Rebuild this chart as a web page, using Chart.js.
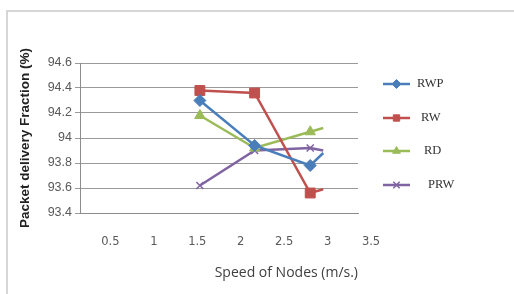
<!DOCTYPE html>
<html>
<head>
<meta charset="utf-8">
<script src="https://cdn.jsdelivr.net/npm/chart.js@4/dist/chart.umd.min.js"></script>
<style>
  html, body { margin: 0; padding: 0; background: #fff; }
  #wrap { width: 514px; height: 294px; }
</style>
</head>
<body>
<div id="wrap"><canvas id="chart" width="514" height="294"></canvas></div>
<script>
// values
const speeds = [1.53, 2.16, 2.8, 2.95];
const rwp = [94.30, 93.94, 93.78, 93.88];
const rw = [94.38, 94.36, 93.56, 93.59];
const rd = [94.18, 93.92, 94.05, 94.08];
const prw = [93.62, 93.90, 93.92, 93.90];

const seriesNames = ["RWP", "RW", "RD", "PRW"];
const xTickValues = [0.5, 1, 1.5, 2, 2.5, 3, 3.5];
const xTickLabels = ["0.5", "1", "1.5", "2", "2.5", "3", "3.5"];
const yTickLabels = ["93.4", "93.6", "93.8", "94", "94.2", "94.4", "94.6"];

const colors = ["#4a7ebb", "#c0504d", "#9bbb59", "#8064a2"];
const markers = ["rectRot", "rect", "triangle", "crossRot"];
const markerSize = [6, 7, 6, 5];

function points(vals) {
  return vals.map((v, i) => ({ x: speeds[i], y: v }));
}

const datasets = [rwp, rw, rd, prw].map((vals, i) => ({
  label: seriesNames[i],
  data: points(vals),
  borderColor: colors[i],
  backgroundColor: colors[i],
  borderWidth: 2.5,
  pointStyle: markers[i],
  pointRadius: vals.map((v, j) => (j < 3 ? markerSize[i] : 0)),
  pointBorderWidth: i === 3 ? 1.5 : 1,
  tension: 0
}));

// frame around the chart, like the spreadsheet chart box
const framePlugin = {
  id: "frame",
  beforeDraw(chart) {
    const ctx = chart.ctx;
    ctx.save();
    ctx.strokeStyle = "#d6d6d6";
    ctx.lineWidth = 2;
    ctx.beginPath();
    ctx.moveTo(7, 294);
    ctx.lineTo(7, 11);
    ctx.lineTo(514, 11);
    ctx.stroke();
    ctx.restore();
  }
};

// legend with line + marker, like the original
const legendPlugin = {
  id: "lineLegend",
  afterDraw(chart) {
    const ctx = chart.ctx;
    const rowY = [84, 118, 151, 185];
    const textX = [417, 421, 424, 428];
    ctx.save();
    chart.data.datasets.forEach((ds, i) => {
      const y = rowY[i];
      ctx.strokeStyle = ds.borderColor;
      ctx.lineWidth = 2.5;
      ctx.beginPath();
      ctx.moveTo(383, y);
      ctx.lineTo(410, y);
      ctx.stroke();
      ctx.fillStyle = ds.backgroundColor;
      ctx.lineWidth = i === 3 ? 1.5 : 1;
      Chart.helpers.drawPoint(ctx, { pointStyle: ds.pointStyle, radius: 4.5, borderWidth: 1, rotation: 0 }, 396.5, y);
      ctx.fillStyle = "#333";
      ctx.font = "12.5px 'Liberation Serif'";
      ctx.textBaseline = "middle";
      ctx.textAlign = "left";
      ctx.fillText(ds.label, textX[i], y);
    });
    ctx.restore();
  }
};

new Chart(document.getElementById("chart"), {
  type: "line",
  data: { datasets: datasets },
  plugins: [framePlugin, legendPlugin],
  options: {
    responsive: false,
    animation: false,
    layout: { padding: { left: 7, right: 156, top: 63, bottom: 0 } },
    plugins: {
      legend: { display: false },
      tooltip: { enabled: false }
    },
    scales: {
      x: {
        type: "linear",
        min: 0.15,
        max: 3.35,
        afterBuildTicks: scale => {
          scale.ticks = xTickValues.map(v => ({ value: v }));
        },
        afterFit: scale => { scale.height = 81; },
        grid: { display: false, drawTicks: false },
        border: { display: true, color: "#8c8c8c", width: 1 },
        ticks: {
          autoSkip: false,
          maxRotation: 0,
          padding: 22,
          color: "#595959",
          font: { family: "'DejaVu Sans'", size: 11.5 },
          callback: (v, i) => xTickLabels[i]
        },
        title: {
          display: true,
          text: "Speed of Nodes (m/s.)",
          align: "end",
          color: "#404040",
          font: { family: "'Open Sans'", size: 14 },
          padding: { top: 0, bottom: 12.5 }
        }
      },
      y: {
        min: 93.4,
        max: 94.6,
        afterBuildTicks: scale => {
          scale.ticks = yTickLabels.map(t => ({ value: parseFloat(t) }));
        },
        afterFit: scale => { scale.width = 73; },
        grid: { color: "#9a9a9a", lineWidth: 1, tickLength: 5, drawTicks: true },
        border: { display: true, color: "#8c8c8c", width: 1 },
        ticks: {
          padding: 3,
          color: "#595959",
          font: { family: "'Liberation Sans'", size: 12.5 },
          callback: (v, i) => yTickLabels[i]
        },
        title: {
          display: true,
          text: "Packet delivery Fraction (%)",
          color: "#222",
          font: { family: "'Liberation Sans'", size: 13.5, weight: "bold" },
          padding: { top: 10, bottom: 0 }
        }
      }
    }
  }
});
</script>
</body>
</html>
